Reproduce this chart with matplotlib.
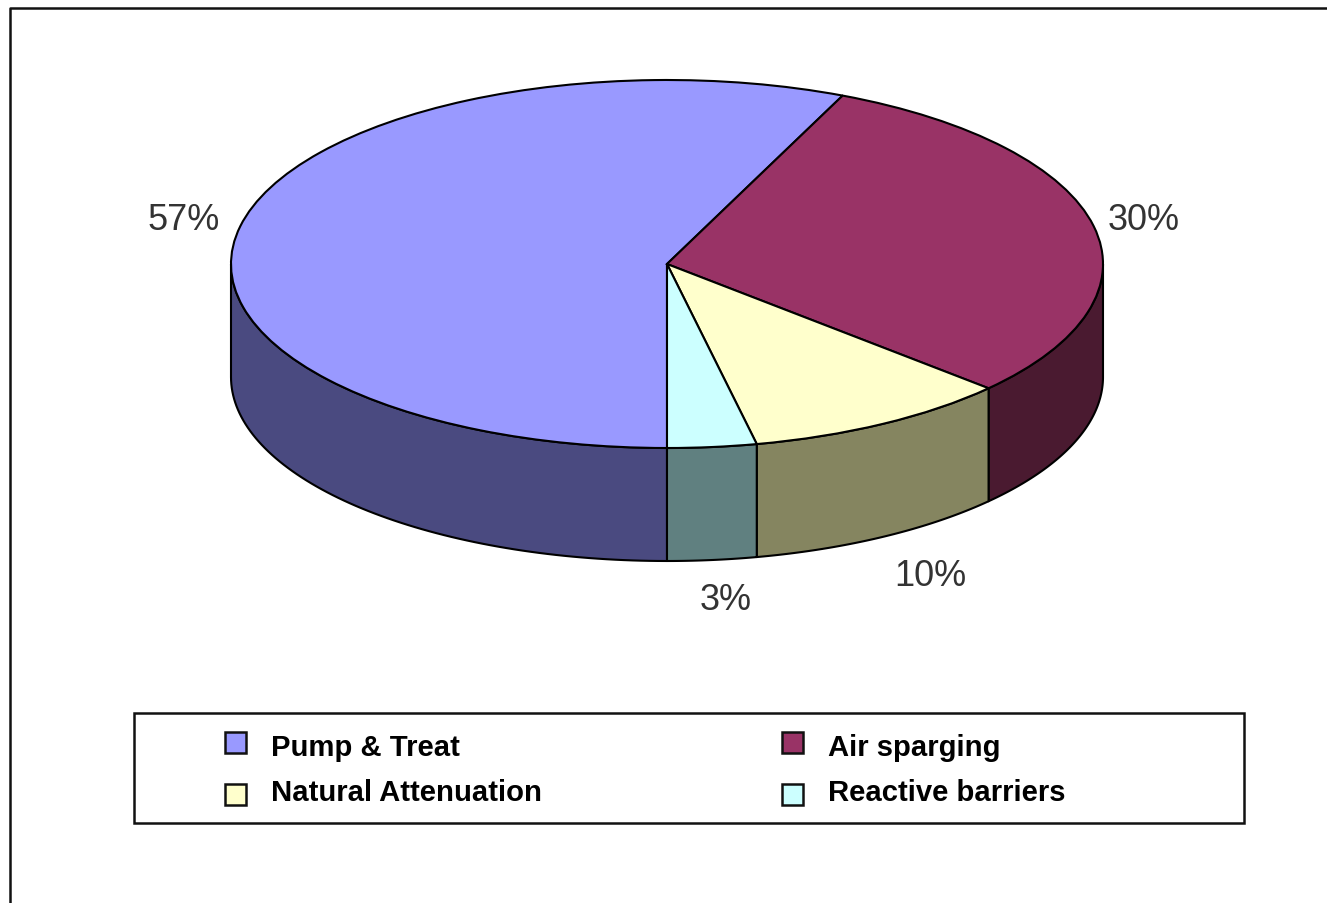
import numpy as np
import matplotlib
matplotlib.use("Agg")
import matplotlib.pyplot as plt
from matplotlib.patches import Polygon, Rectangle
from matplotlib.lines import Line2D

categories = ["Pump & Treat", "Air sparging", "Natural Attenuation", "Reactive barriers"]
values = [56.6, 30.2, 9.9, 3.3]
pct_labels = ["57%", "30%", "10%", "3%"]
top_colors = ["#9999FF", "#993366", "#FFFFCC", "#CCFFFF"]
side_colors = ["#4A4A80", "#4A1A30", "#858560", "#608080"]

W, H = 1327, 904
CX, CY, RX, RY, DEPTH = 667, 265, 436, 184, 113
plt.rcParams["font.family"] = ["Liberation Sans", "DejaVu Sans"]

fig = plt.figure(figsize=(W / 100, H / 100), dpi=100, facecolor="white")
ax = fig.add_axes([0, 0, 1, 1])
wedges, _ = ax.pie(values, startangle=270, counterclock=False, radius=1, center=(0, 0),
                   colors=top_colors, wedgeprops=dict(edgecolor="black", linewidth=1.5, zorder=3),
                   frame=True)
ax.set_aspect("auto")
ax.set_xlim(-CX / RX, (W - CX) / RX)
ax.set_ylim(-(H - CY) / RY, CY / RY)
ax.axis("off")

def px(x, y):
    return (x - CX) / RX, (CY - y) / RY

d = DEPTH / RY
edges = 270 - np.cumsum([0] + values) * 3.6
for i in range(len(values)):
    a0, a1 = edges[i], edges[i + 1]
    # visible front part of the rim: angles between 180 and 360 (equivalently -180..0)
    lo, hi = a1, a0
    if hi > 180:
        hi = min(hi, 360)
        lo = max(lo, 180)
    else:
        lo = max(lo, -180)
        hi = min(hi, 0)
    if hi <= lo:
        continue
    t = np.radians(np.linspace(hi, lo, 80))
    x, y = np.cos(t), np.sin(t)
    pts = np.r_[np.c_[x, y], np.c_[x[::-1], y[::-1] - d]]
    ax.add_patch(Polygon(pts, closed=True, facecolor=side_colors[i], edgecolor="black",
                         linewidth=1.5, zorder=2, joinstyle="round"))

label_pos = [(184, 220), (1144, 220), (930, 576), (726, 601)]
for s, (x, y) in zip(pct_labels, label_pos):
    ax.text(*px(x, y), s, fontsize=26, color="#333333", ha="center", va="center")

# frame (only left and top edges are visible)
ax.add_line(Line2D(*zip(px(9.5, H), px(9.5, 8.5), px(W, 8.5)), color="#111111", lw=1.8, zorder=5))

# legend box
x0, y0 = px(134, 824)
x1, y1 = px(1244, 714)
ax.add_patch(Rectangle((x0, y0), x1 - x0, y1 - y0, facecolor="white", edgecolor="#111111",
                       linewidth=1.8, zorder=4))
order = [0, 2, 1, 3]
leg = ax.legend([wedges[i] for i in order], [categories[i] for i in order], ncol=2,
                frameon=False, loc="upper left", bbox_to_anchor=(225 / W, 1 - 734 / H),
                bbox_transform=fig.transFigure, borderpad=0, borderaxespad=0,
                prop=dict(family="Liberation Sans", weight="bold", size=21.1),
                handlelength=0.72, handleheight=0.72, handletextpad=0.86,
                columnspacing=8.18, labelspacing=0.57)
leg.set_zorder(6)
for k, h in enumerate(leg.legend_handles):
    h.set_edgecolor("#111111")
    h.set_linewidth(1.8)
    h.set_y(h.get_y() + (1.5 if k in (0, 2) else -3.5))

fig.savefig("out.png", dpi=100, facecolor="white")
